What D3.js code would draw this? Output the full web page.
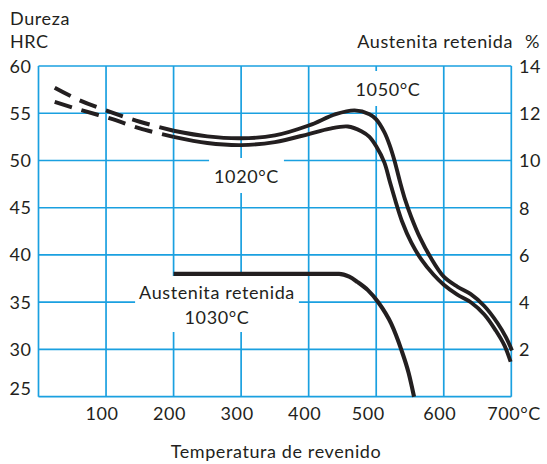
<!DOCTYPE html>
<html>
  <head>
    <title>Dureza / Austenita retenida</title>
    <script src="https://d3js.org/d3.v7.min.js"></script>
    <style>
      body { margin: 0; background: #fff; }
      text { font-family: Lato, "Open Sans", sans-serif; font-size: 18px; fill: #231f20; letter-spacing: 0.6px; }
    </style>
  </head>
  <body>
    <svg width="547" height="464"></svg>
    <script>
      // values
      const xTicks = [100, 200, 300, 400, 500, 600, 700];
      const hrcTicks = [25, 30, 35, 40, 45, 50, 55, 60];
      const austTicks = [2, 4, 6, 8, 10, 12, 14];

      // hardness curves [temperature, HRC], dashed up to 200 °C
      const hrc1050 = [[24, 57.7], [60, 56.4], [106, 55.15], [150, 54.1], [200, 53.15], [250, 52.55],
        [300, 52.35], [350, 52.65], [400, 53.7], [440, 54.9], [468, 55.3], [490, 54.9], [500, 54.35],
        [512, 53.0], [520, 51.6], [527, 50], [535, 47.8], [543, 45.8], [552, 44.0], [565, 41.8],
        [580, 39.8], [600, 37.7], [620, 36.65], [640, 35.85], [660, 34.6], [680, 32.75], [692, 31.3],
        [701, 29.9]];
      const hrc1020 = [[24, 56.2], [60, 55.4], [106, 54.45], [150, 53.4], [200, 52.5], [250, 51.85],
        [300, 51.63], [350, 51.95], [400, 52.8], [430, 53.35], [458, 53.6], [478, 53.1], [490, 52.5],
        [500, 51.5], [512, 49.8], [520, 47.8], [529, 45.6], [538, 43.6], [552, 41.3], [567, 39.5],
        [585, 37.9], [600, 36.85], [620, 35.8], [640, 35.0], [660, 33.7], [677, 32.0], [690, 30.4],
        [699, 28.7]];
      const dashedUntil = 200;

      // retained austenite at 1030 °C [temperature, %]
      const aust1030 = [[200, 5.2], [445, 5.2], [460, 5.08], [472, 4.86], [488, 4.5], [503, 4.0],
        [522, 3.1], [537, 2.0], [548, 1.0], [556, 0]];

      const svg = d3.select("svg");
      const blue = "#1aa0e0";
      const ink = "#231f20";

      const x = d3.scaleLinear().domain([0, 700]).range([38.5, 511.3]);
      const y = d3.scaleLinear().domain([25, 60]).range([396.7, 66]);
      const y2 = d3.scaleLinear().domain([0, 14]).range([396.7, 66]);

      // grid
      const grid = svg.append("g").attr("stroke", blue).attr("stroke-width", 1.7);
      grid.selectAll("line.v").data(d3.range(0, 701, 100)).join("line")
        .attr("class", "v")
        .attr("x1", d => x(d)).attr("x2", d => x(d))
        .attr("y1", y(60)).attr("y2", y(25));
      grid.selectAll("line.h").data(hrcTicks).join("line")
        .attr("class", "h")
        .attr("x1", x(0)).attr("x2", x(700))
        .attr("y1", d => y(d)).attr("y2", d => y(d));

      // labels inside the plot sit on white boxes that cut the grid
      function boxedLabel(lines, cx, baseline, pad) {
        const g = svg.append("g");
        const bg = g.append("rect").attr("fill", "#fff");
        lines.forEach((t, i) => {
          g.append("text").attr("x", cx).attr("y", baseline + i * 25)
            .attr("text-anchor", "middle").text(t);
        });
        const b = g.node().getBBox();
        bg.attr("x", b.x - pad[0]).attr("y", b.y - pad[1])
          .attr("width", b.width + 2 * pad[0]).attr("height", b.height + pad[1] + pad[2]);
        return g;
      }
      boxedLabel(["1050°C"], 388, 96, [4, 7, 6]);
      boxedLabel(["1020°C"], 246.5, 183, [5, 7, 6]);
      boxedLabel(["Austenita retenida", "1030°C"], 217, 299, [4, 5, 4]);

      // curves
      const line = d3.line().x(d => x(d[0])).y(d => y(d[1])).curve(d3.curveCatmullRom.alpha(0.5));
      const line2 = d3.line().x(d => x(d[0])).y(d => y2(d[1])).curve(d3.curveMonotoneX);

      [hrc1050, hrc1020].forEach(s => {
        svg.append("path")
          .attr("d", line(s.filter(d => d[0] <= dashedUntil)))
          .attr("fill", "none").attr("stroke", ink).attr("stroke-width", 4)
          .attr("stroke-dasharray", "18,10");
        svg.append("path")
          .attr("d", line(s.filter(d => d[0] >= dashedUntil)))
          .attr("fill", "none").attr("stroke", ink).attr("stroke-width", 3.9);
      });

      svg.append("path")
        .attr("d", line2(aust1030))
        .attr("fill", "none").attr("stroke", ink).attr("stroke-width", 4.1);

      // left axis
      svg.selectAll("text.yl").data(hrcTicks).join("text")
        .attr("class", "yl")
        .attr("x", 31.5)
        .attr("y", d => y(d) + (d === 25 ? -2 : 6.5))
        .attr("text-anchor", "end")
        .text(d => d);

      // right axis
      svg.selectAll("text.yr").data(austTicks).join("text")
        .attr("class", "yr")
        .attr("x", 519)
        .attr("y", d => y2(d) + 7)
        .text(d => d);

      // bottom axis
      svg.selectAll("text.xl").data(xTicks).join("text")
        .attr("class", "xl")
        .attr("x", d => d === 700 ? 541 : x(d) - (d === 500 ? 8 : 4))
        .attr("y", 420)
        .attr("text-anchor", d => d === 700 ? "end" : "middle")
        .text(d => d === 700 ? d + "°C" : d);

      // titles
      svg.append("text").attr("x", 10).attr("y", 25).text("Dureza");
      svg.append("text").attr("x", 10).attr("y", 48).text("HRC");
      svg.append("text").attr("x", 513).attr("y", 48).attr("text-anchor", "end").text("Austenita retenida");
      svg.append("text").attr("x", 540).attr("y", 48).attr("text-anchor", "end").text("%");
      svg.append("text").attr("x", 276).attr("y", 458).attr("text-anchor", "middle")
        .text("Temperatura de revenido");
    </script>
  </body>
</html>
